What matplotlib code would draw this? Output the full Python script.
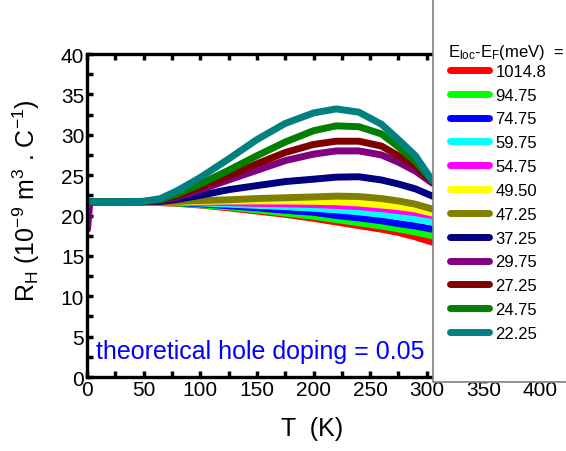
import matplotlib
matplotlib.use("Agg")
import matplotlib.pyplot as plt
from matplotlib.patches import Rectangle

plt.rcParams['font.family'] = ['Liberation Sans', 'DejaVu Sans']
plt.rcParams['mathtext.default'] = 'regular'

# Temperature (K)
temps = [0.5, 2.5, 25, 50, 65, 80, 100, 125, 150, 175, 200, 220, 240, 260, 275, 290, 305]

# Hall coefficient R_H (1e-9 m^3/C) per E_loc - E_F (meV)
labels = ["1014.8", "94.75", "74.75", "59.75", "54.75", "49.50",
          "47.25", "37.25", "29.75", "27.25", "24.75", "22.25"]
colors = ["#ff0000", "#00ff00", "#0000ff", "#00ffff", "#ff00ff", "#ffff00",
          "#808000", "#000080", "#800080", "#800000", "#008000", "#008080"]

r_1014 = [21.7, 21.7, 21.7, 21.7, 21.6, 21.5, 21.3, 20.95, 20.55, 20.15, 19.65, 19.2, 18.75, 18.3, 17.9, 17.35, 16.7]
r_9475 = [21.7, 21.7, 21.7, 21.7, 21.65, 21.55, 21.35, 21.05, 20.7, 20.3, 19.9, 19.5, 19.1, 18.7, 18.35, 17.95, 17.5]
r_7475 = [21.7, 21.7, 21.7, 21.7, 21.65, 21.6, 21.45, 21.2, 20.95, 20.65, 20.4, 20.0, 19.7, 19.35, 19.0, 18.7, 18.3]
r_5975 = [21.7, 21.7, 21.7, 21.7, 21.7, 21.65, 21.55, 21.4, 21.25, 21.1, 20.9, 20.7, 20.45, 20.15, 19.85, 19.55, 19.2]
r_5475 = [21.7, 21.7, 21.7, 21.7, 21.7, 21.7, 21.65, 21.6, 21.5, 21.45, 21.35, 21.25, 21.1, 20.85, 20.6, 20.35, 20.0]
r_4950 = [21.7, 21.7, 21.7, 21.7, 21.7, 21.7, 21.75, 21.8, 21.8, 21.8, 21.75, 21.7, 21.55, 21.3, 21.1, 20.8, 20.3]
r_4725 = [21.7, 21.7, 21.7, 21.7, 21.7, 21.75, 21.85, 21.95, 22.1, 22.2, 22.3, 22.4, 22.35, 22.1, 21.8, 21.4, 20.8]
r_3725 = [21.7, 21.7, 21.7, 21.7, 21.75, 22.0, 22.5, 23.2, 23.7, 24.2, 24.5, 24.75, 24.8, 24.4, 23.9, 23.3, 22.4]
r_2975 = [18.3, 21.7, 21.7, 21.7, 21.85, 22.3, 23.2, 24.4, 25.6, 26.8, 27.6, 28.0, 28.0, 27.5, 26.6, 25.5, 24.0]
r_2725 = [21.7, 21.7, 21.7, 21.7, 21.9, 22.5, 23.5, 24.9, 26.4, 27.8, 28.8, 29.2, 29.2, 28.6, 27.4, 26.1, 24.2]
r_2475 = [21.7, 21.7, 21.7, 21.75, 22.0, 22.7, 23.9, 25.6, 27.4, 29.1, 30.5, 31.1, 31.0, 30.1, 28.5, 26.7, 24.3]
r_2225 = [21.7, 21.7, 21.7, 21.75, 22.1, 23.1, 24.7, 27.0, 29.4, 31.4, 32.7, 33.2, 32.8, 31.3, 29.4, 27.4, 24.3]

series = [r_1014, r_9475, r_7475, r_5975, r_5475, r_4950,
          r_4725, r_3725, r_2975, r_2725, r_2475, r_2225]

fig = plt.figure(figsize=(5.66, 4.52), dpi=100)
ax = fig.add_axes([0.1537, 0.1637, 0.8004, 0.7146])

for vals, col, lab in zip(series, colors, labels):
    ax.plot(temps, vals, color=col, lw=5, label=lab, solid_capstyle='round')

ax.set_xlim(0, 400)
ax.set_ylim(0, 40)
ax.set_xticks(range(0, 401, 50))
ax.set_yticks(range(0, 41, 5))
ax.set_xticks(range(25, 400, 50), minor=True)
ax.set_yticks([y + 2.5 for y in range(0, 40, 5)], minor=True)
ax.tick_params(which='both', direction='in', top=True, right=True,
               length=4, width=2.5, labelsize=15, pad=2)
for sp in ax.spines.values():
    sp.set_linewidth(2.4)

ax.set_xlabel("T  (K)", fontsize=18)
ax.set_ylabel("R$_H$ (10$^{-9}$ m$^3$ . C$^{-1}$)", fontsize=18)
ax.xaxis.set_label_coords(0.497, -0.122)
ax.yaxis.set_label_coords(-0.10, 0.55)

ax.text(8, 2.4, "theoretical hole doping = 0.05", color="#0000ff", fontsize=18)

# white legend box covering the right side of the axes
box = Rectangle((433 / 566, 69 / 452), 0.3, 1.0, transform=fig.transFigure,
                facecolor='white', edgecolor='#808080', lw=1.2, zorder=3)
fig.add_artist(box)

fig.text(448 / 566, 1 - 52 / 452, "E$_{loc}$-E$_F$(meV)  =", fontsize=12,
         va='center', ha='left', zorder=5)

handles, labs = ax.get_legend_handles_labels()
leg = fig.legend(handles, labs, loc='upper left',
                 bbox_to_anchor=(443 / 566, 1 - 58 / 452),
                 frameon=False, fontsize=12, handlelength=2.35,
                 handletextpad=0.39, labelspacing=0.53, borderaxespad=0)
leg.set_zorder(5)

fig.savefig("out.png", dpi=100)
